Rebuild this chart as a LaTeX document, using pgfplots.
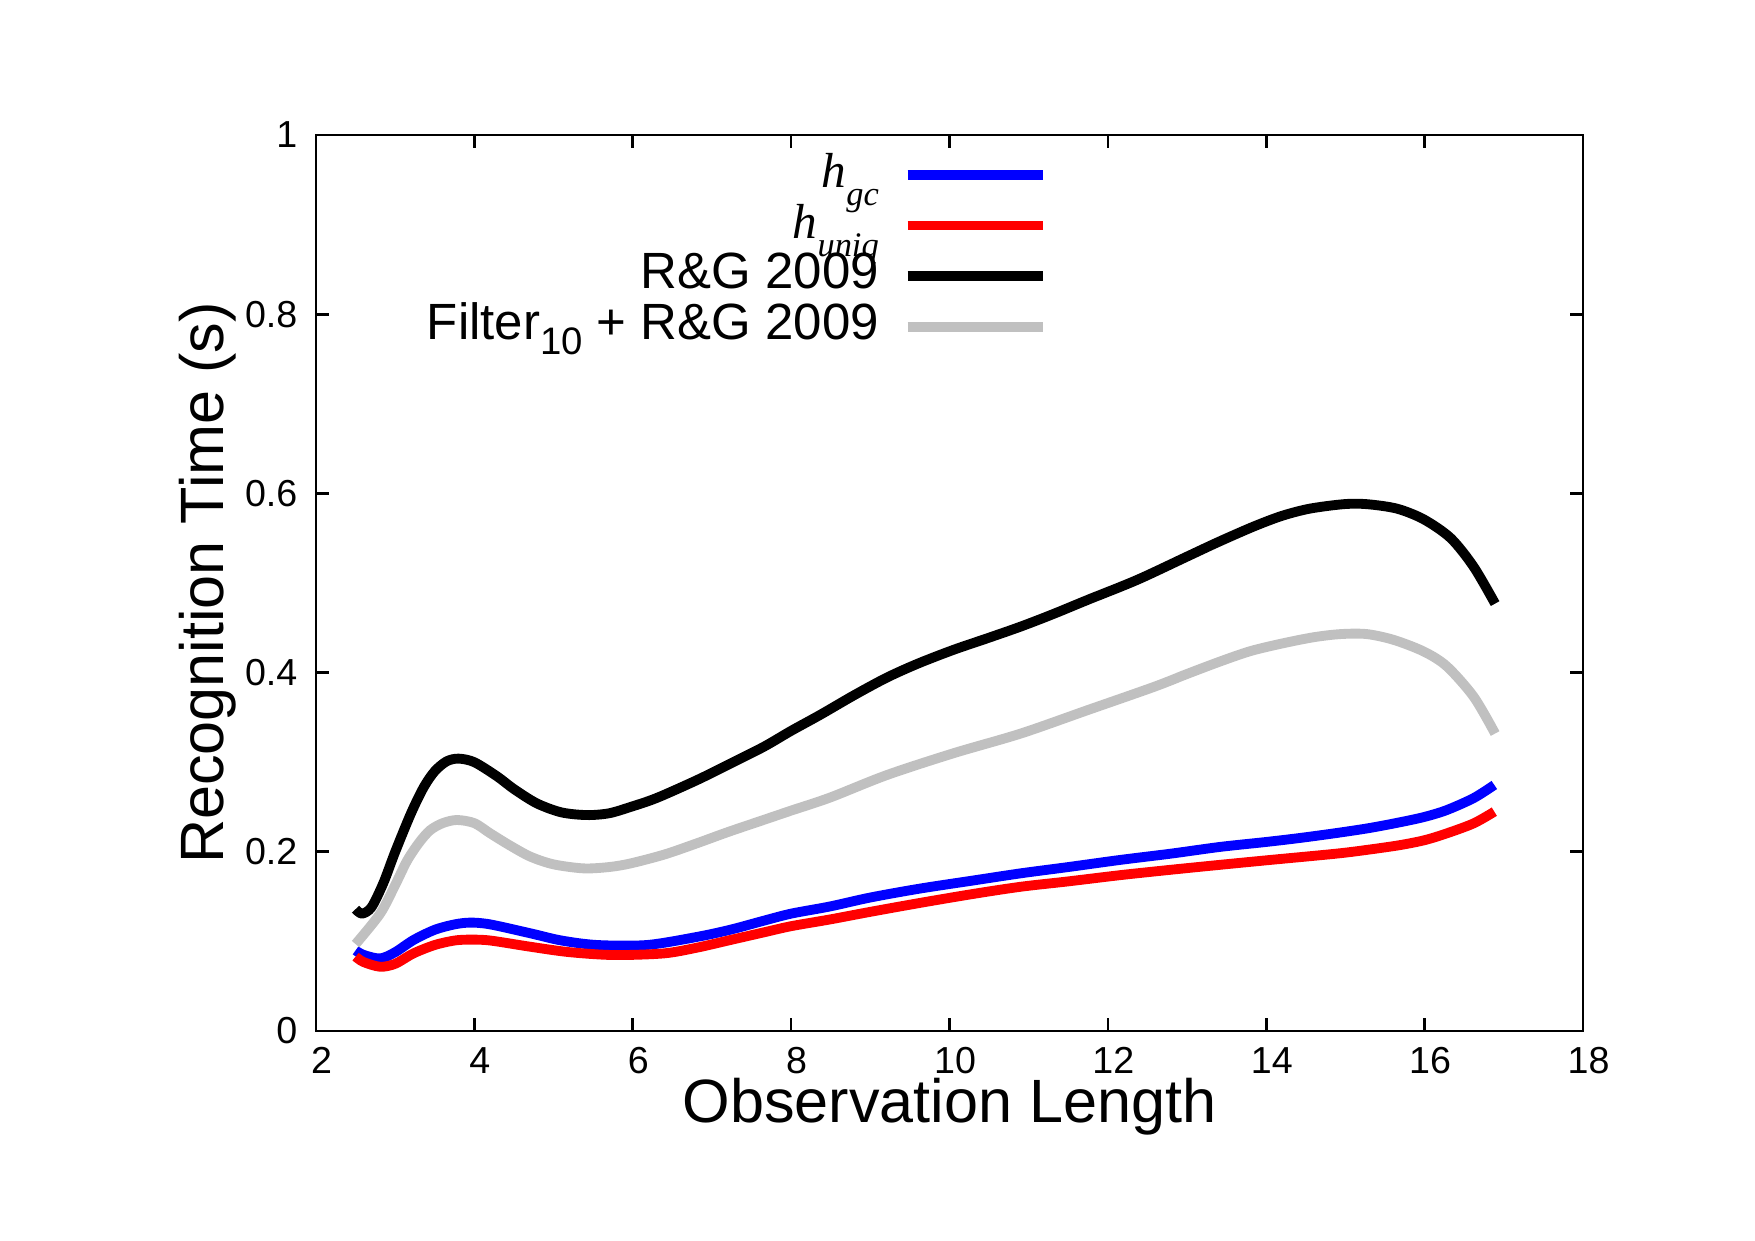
\documentclass[border=0pt]{standalone}
\usepackage{fontspec}
\setmainfont{Liberation Sans}
\newfontfamily\timesfont{Liberation Serif}
\usepackage{pgfplots}
\pgfplotsset{compat=1.18}
\usepackage{pgfplotstable}

\pgfplotstableread{
x y
2.5 0.090
2.6 0.085
2.81 0.081
3.0 0.088
3.23 0.1015
3.5 0.113
3.75 0.119
3.95 0.121
4.2 0.119
4.71 0.109
5.1 0.101
5.55 0.096
6.18 0.096
6.81 0.105
7.23 0.113
7.65 0.123
8.0 0.131
8.49 0.139
9.0 0.149
9.63 0.159
10.3 0.168
10.9 0.176
11.5 0.183
12.16 0.191
12.8 0.198
13.42 0.2055
14.0 0.211
14.43 0.2155
14.89 0.221
15.3 0.2265
15.69 0.233
16.0 0.239
16.28 0.2466
16.62 0.260
16.88 0.2746
}\hgc

\pgfplotstableread{
x y
2.5 0.083
2.6 0.077
2.81 0.0717
3.0 0.075
3.23 0.0866
3.5 0.096
3.75 0.101
3.95 0.102
4.2 0.101
4.71 0.094
5.2 0.088
5.76 0.0848
6.39 0.0866
6.81 0.093
7.23 0.1015
7.65 0.110
8.0 0.117
8.49 0.1245
9.0 0.133
9.63 0.143
10.3 0.153
10.9 0.161
11.5 0.167
12.16 0.174
12.8 0.180
13.42 0.1855
14.0 0.1905
14.89 0.198
15.3 0.2025
15.69 0.2075
16.0 0.213
16.28 0.2206
16.62 0.2318
16.88 0.2448
}\huniq

\pgfplotstableread{
x y
2.5 0.136
2.58 0.131
2.7 0.138
2.85 0.165
3.0 0.200
3.2 0.243
3.36 0.272
3.5 0.290
3.65 0.301
3.8 0.304
4.0 0.300
4.29 0.284
4.5 0.270
4.79 0.254
5.1 0.244
5.42 0.241
5.7 0.243
5.97 0.250
6.3 0.260
6.81 0.280
7.2 0.297
7.65 0.317
8.0 0.335
8.37 0.353
8.8 0.375
9.21 0.3945
9.6 0.410
10.05 0.4254
10.5 0.439
10.9 0.4514
11.3 0.465
11.74 0.481
12.37 0.5035
13.0 0.5295
13.4 0.546
13.84 0.563
14.2 0.575
14.55 0.583
14.98 0.588
15.27 0.588
15.65 0.583
15.99 0.571
16.33 0.550
16.62 0.518
16.89 0.477
}\rg

\pgfplotstableread{
x y
2.5 0.097
2.81 0.131
3.0 0.163
3.15 0.190
3.3 0.210
3.44 0.224
3.6 0.232
3.78 0.2355
4.0 0.232
4.2 0.2206
4.45 0.207
4.71 0.1945
5.0 0.186
5.38 0.1815
5.7 0.183
5.97 0.187
6.4 0.197
6.81 0.2095
7.2 0.222
7.65 0.2355
8.0 0.246
8.49 0.2605
9.21 0.2857
10.05 0.310
10.9 0.332
11.74 0.358
12.58 0.384
13.0 0.3985
13.42 0.4125
13.8 0.424
14.2 0.4325
14.6 0.4395
14.94 0.443
15.27 0.443
15.61 0.4365
15.99 0.4235
16.28 0.407
16.62 0.373
16.89 0.332
}\filt

\definecolor{lgray}{RGB}{192,192,192}

\begin{document}
\begin{tikzpicture}
\path[use as bounding box] (-31.6mm,-20.9mm) rectangle (143.9mm,103.1mm);
\begin{axis}[
  scale only axis,
  width=126.7mm, height=89.6mm,
  xmin=2, xmax=18, ymin=0, ymax=1,
  xtick={2,4,...,18},
  ytick={0,0.2,0.4,0.6,0.8,1},
  tick align=inside,
  major tick length=1.3mm,
  axis line style={line width=0.75pt},
  every tick/.style={line width=0.75pt, black},
  /pgf/number format/assume math mode=true,
  tick label style={font=\fontsize{10.7}{10.7}\selectfont, inner sep=0pt},
  xticklabel style={yshift=-1.55mm, xshift=0.55mm},
  yticklabel style={xshift=-1.8mm},
  xlabel={Observation Length},
  ylabel={Recognition Time (s)},
  label style={font=\fontsize{17.4}{17.4}\selectfont, inner sep=0pt},
  xlabel style={at={([yshift=-9.1mm]axis description cs:0.5,0)}, anchor=base},
  ylabel style={at={([xshift=-9.2mm]axis description cs:0,0.5)}, anchor=base},
  legend plot pos=right,
  legend cell align=right,
  legend style={draw=none, fill=none, at={(rel axis cs:0.578,0.9814)}, anchor=north east,
    font=\fontsize{14.5}{14.5}\selectfont, inner sep=0pt, column sep=2.4mm,
    nodes={inner sep=0pt, text height=3.5mm, text depth=1.57mm}},
  legend image code/.code={\draw[#1] (0mm,0.3mm) -- (13.5mm,0.3mm);},
  every axis plot/.append style={line width=2.8pt, line join=round},
]
\addplot[color=blue, smooth] table[x=x,y=y] {\hgc};
\addlegendentry{{\timesfont\itshape\fontsize{14}{14}\selectfont h\raisebox{-1.8mm}[0pt][0pt]{\fontsize{9.8}{9.8}\selectfont gc}}}
\addplot[color=red, smooth] table[x=x,y=y] {\huniq};
\addlegendentry{{\timesfont\itshape\fontsize{14}{14}\selectfont h\raisebox{-1.8mm}[0pt][0pt]{\fontsize{9.8}{9.8}\selectfont uniq}}}
\addplot[color=black, smooth] table[x=x,y=y] {\rg};
\addlegendentry{R\&G 2009}
\addplot[color=lgray, smooth] table[x=x,y=y] {\filt};
\addlegendentry{Filter\raisebox{-1.5mm}[0pt][0pt]{\fontsize{10.9}{10.9}\selectfont 10} + R\&G 2009}
\end{axis}
\end{tikzpicture}
\end{document}
